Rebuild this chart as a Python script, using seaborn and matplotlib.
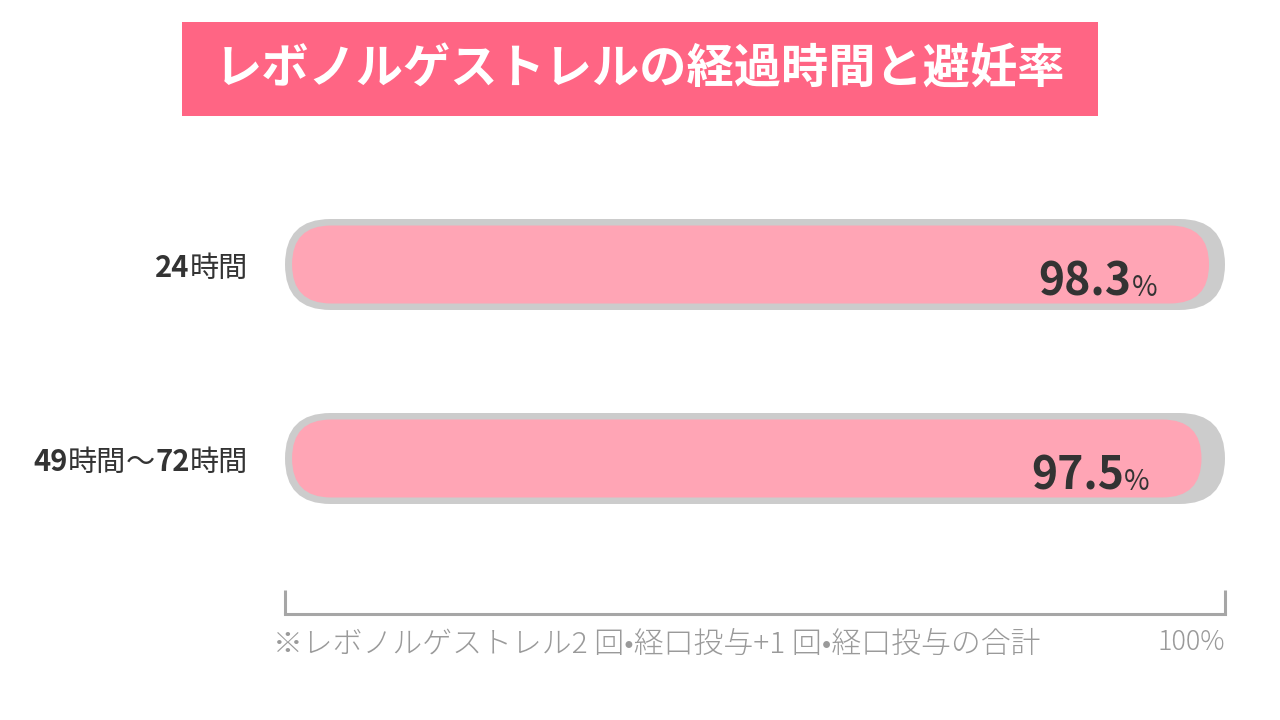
import matplotlib
matplotlib.use("Agg")
import matplotlib.pyplot as plt
from matplotlib.patches import FancyBboxPatch, Rectangle
import pandas as pd
import seaborn as sns

# data
title = "レボノルゲストレルの経過時間と避妊率"
categories = ["24時間", "49時間～72時間"]
rates = [98.3, 97.5]
scale_max = 100
label_parts = [
    [("24", "bold"), ("時間", "normal")],
    [("49", "bold"), ("時間", "normal"), ("～", "normal"), ("72", "bold"), ("時間", "normal")],
]
footnote = "※レボノルゲストレル2 回•経口投与+1 回•経口投与の合計"
max_label = "100%"

TITLE_BG = "#ff6584"
BAR_PINK = "#ffa5b5"
TRACK_GRAY = "#cccccc"
AXIS_GRAY = "#a6a6a6"
TEXT_DARK = "#333333"
NOTE_GRAY = "#9a9a9a"

sns.set_theme(style="white")
plt.rcParams["font.family"] = ["Noto Sans CJK JP", "DejaVu Sans"]

df = pd.DataFrame({"label": categories, "rate": rates, "full": [scale_max] * len(rates)})

fig = plt.figure(figsize=(12.8, 7.2), dpi=100)
ax = fig.add_axes([285 / 1280, 1 - 614 / 720, 940 / 1280, (614 - 150) / 720])

sns.barplot(data=df, x="full", y="label", orient="h", color=TRACK_GRAY,
            width=0.469, saturation=1, errorbar=None, ax=ax)
track_rects = list(ax.patches)
sns.barplot(data=df, x="rate", y="label", orient="h", color=BAR_PINK,
            width=0.402, saturation=1, errorbar=None, ax=ax)
pink_rects = [p for p in ax.patches if p not in track_rects]

ax.set_xlim(0, scale_max)
ax.set_ylim(1 + (614 - 458.5) / 194, -(264.5 - 150) / 194)


def round_bars(rects, color, inset=0.0):
    # swap seaborn's rectangles for pill shapes with circular ends
    p0 = ax.transData.transform((0, 0))
    p1 = ax.transData.transform((1, 1))
    px_x = abs(p1[0] - p0[0])
    px_y = abs(p1[1] - p0[1])
    aspect = px_x / px_y
    for r in rects:
        x, y, w, h = r.get_x(), r.get_y(), r.get_width(), r.get_height()
        r.remove()
        rad = (h / 2) * px_y / px_x
        patch = FancyBboxPatch((x + inset, y), w - inset, h,
                               boxstyle=f"round,pad=0,rounding_size={rad}",
                               mutation_aspect=aspect, facecolor=color,
                               edgecolor="none", zorder=2)
        ax.add_patch(patch)


round_bars(track_rects, TRACK_GRAY)
round_bars(pink_rects, BAR_PINK, inset=0.75)

# value labels: bold number + small percent sign
for i, v in enumerate(rates):
    y_base = i + 0.162
    pct = ax.text(v - 5.5, y_base, "%", ha="right", va="baseline",
                  fontsize=20, color=TEXT_DARK, zorder=3)
    ax.annotate(f"{v:.1f}", xy=(0, y_base), xycoords=(pct, "data"),
                ha="right", va="baseline", fontsize=32, fontweight="bold",
                color=TEXT_DARK, zorder=3)

# category labels with mixed weights
for i, parts in enumerate(label_parts):
    y_base = i + 0.062
    nxt = None
    for txt, wt in reversed(parts):
        if nxt is None:
            nxt = ax.text(-3.94, y_base, txt, ha="right", va="baseline",
                          fontsize=21, fontweight=wt, color=TEXT_DARK)
        else:
            nxt = ax.annotate(txt, xy=(0, y_base), xycoords=(nxt, "data"),
                              ha="right", va="baseline", fontsize=21,
                              fontweight=wt, color=TEXT_DARK)

ax.set_ylabel("")
ax.set_xlabel("")
ax.set_yticks([])
for s in ["top", "right", "left"]:
    ax.spines[s].set_visible(False)
ax.spines["bottom"].set_color(AXIS_GRAY)
ax.spines["bottom"].set_linewidth(2.2)
ax.set_xticks([0, scale_max])
ax.set_xticklabels(["", max_label])
ax.tick_params(axis="x", direction="in", length=17, width=2.2, color=AXIS_GRAY,
               labelcolor=NOTE_GRAY, labelsize=19.5, pad=10, bottom=True)
for lbl in ax.get_xticklabels():
    lbl.set_horizontalalignment("right")
    lbl.set_fontweight("light")
ax.set_facecolor("none")

# title banner
fig.patches.append(Rectangle((182 / 1280, 1 - 116 / 720), 916 / 1280, 94 / 720,
                             transform=fig.transFigure, facecolor=TITLE_BG,
                             edgecolor="none", zorder=0))
fig.text(640 / 1280, 1 - 70 / 720, title, ha="center", va="center",
         fontsize=34, fontweight="bold", color="white")

fig.text(273 / 1280, 1 - 645 / 720, footnote, ha="left", va="center",
         fontsize=21.5, fontweight="light", color=NOTE_GRAY)

fig.savefig("out.png", dpi=100)
